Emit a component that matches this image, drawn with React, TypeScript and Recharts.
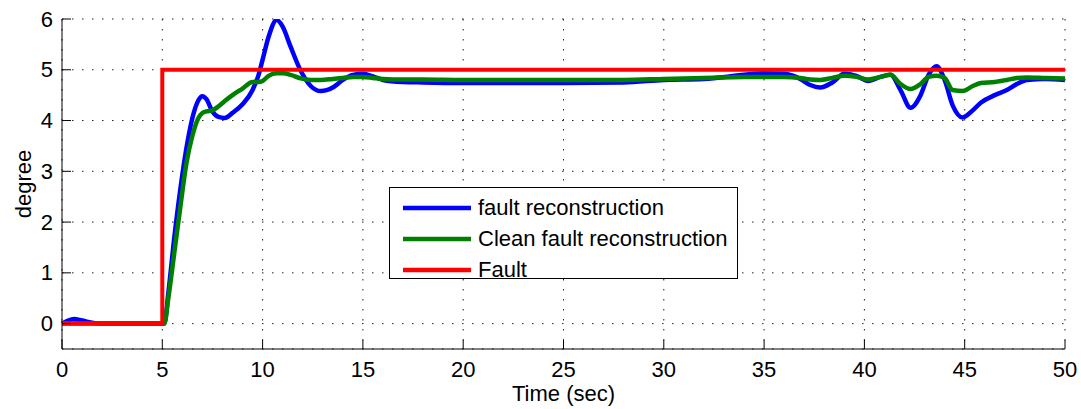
import React from 'react';
import { LineChart, Line, XAxis, YAxis, CartesianGrid, Legend } from 'recharts';

// sampled time axis (sec) for the two reconstructions
const time = [
    0, 0.3, 0.6, 1, 1.5, 2, 3, 4, 5, 5.1, 5.3, 5.6, 5.9, 6.2, 6.5, 6.8, 7.0, 7.2, 7.5, 7.8, 8.1, 8.5, 9, 9.5,
    9.8, 10, 10.3, 10.7, 11, 11.4, 11.9, 12.4, 12.9, 13.5, 14, 14.5, 15, 15.5, 16, 17, 18, 20, 22, 25, 28, 30,
    32, 34, 35, 36, 36.8, 37.3, 37.8, 38.4, 39, 39.6, 40.2, 40.8, 41.3, 41.8, 42.3, 42.8, 43.2, 43.6, 44, 44.4,
    44.9, 45.4, 45.8, 46.5, 47.1, 47.6, 48.1, 49, 50,
];

const faultRecon = [
    0, 0.06, 0.09, 0.06, 0.02, 0, 0, 0, 0, 0, 0.6, 1.7, 2.65, 3.45, 4.05, 4.4, 4.48, 4.42, 4.18, 4.07, 4.05, 4.15,
    4.32, 4.6, 4.9, 5.2, 5.65, 5.98, 5.85, 5.45, 4.98, 4.68, 4.58, 4.65, 4.8, 4.9, 4.92, 4.87, 4.8, 4.76, 4.75,
    4.74, 4.74, 4.74, 4.75, 4.8, 4.82, 4.9, 4.93, 4.92, 4.82, 4.7, 4.65, 4.75, 4.92, 4.88, 4.78, 4.86, 4.9, 4.6,
    4.25, 4.5, 4.9, 5.07, 4.8, 4.3, 4.06, 4.2, 4.35, 4.5, 4.6, 4.72, 4.8, 4.82, 4.8,
];

const cleanRecon = [
    0, 0, 0, 0, 0, 0, 0, 0, 0, 0, 0.5, 1.4, 2.3, 3.15, 3.7, 4.05, 4.15, 4.18, 4.2, 4.28, 4.38, 4.5, 4.63, 4.76,
    4.76, 4.78, 4.88, 4.93, 4.93, 4.9, 4.83, 4.8, 4.8, 4.82, 4.84, 4.86, 4.86, 4.84, 4.82, 4.81, 4.81, 4.8, 4.8,
    4.8, 4.8, 4.82, 4.84, 4.86, 4.86, 4.86, 4.84, 4.81, 4.8, 4.84, 4.88, 4.86, 4.81, 4.86, 4.9, 4.72, 4.62, 4.72,
    4.86, 4.88, 4.84, 4.6, 4.58, 4.68, 4.74, 4.76, 4.8, 4.84, 4.85, 4.84, 4.83,
];

// step fault
const faultTime = [0, 5, 5, 50];
const faultValue = [0, 0, 5, 5];

const xTicks = [0, 5, 10, 15, 20, 25, 30, 35, 40, 45, 50];
const yTicks = [0, 1, 2, 3, 4, 5, 6];

const seriesNames = ['fault reconstruction', 'Clean fault reconstruction', 'Fault'];
const seriesColors = ['#0000ff', '#008000', '#ff0000'];

const FONT = '"Liberation Sans", Arial, Helvetica, sans-serif';
const FONT_SIZE = 22;
const TICK_LEN = 9;

const reconData = time.map((t, i) => ({ t, blue: faultRecon[i], green: cleanRecon[i] }));
const faultData = faultTime.map((t, i) => ({ t, red: faultValue[i] }));

function BottomTick({ x, y, payload }: any) {
    return (
        <g>
            <line x1={x} y1={y - 20} x2={x} y2={y - 20 - TICK_LEN} stroke="#000" />
            <text x={x} y={y} textAnchor="middle" dominantBaseline="central" fontSize={FONT_SIZE} fontFamily={FONT} fill="#000">
                {payload.value}
            </text>
        </g>
    );
}

function TopTick({ x, y }: any) {
    return <line x1={x} y1={y} x2={x} y2={y + TICK_LEN} stroke="#000" />;
}

function LeftTick({ x, y, payload }: any) {
    return (
        <g>
            <line x1={x + 9} y1={y} x2={x + 9 + TICK_LEN} y2={y} stroke="#000" />
            <text x={x} y={y} textAnchor="end" dominantBaseline="central" fontSize={FONT_SIZE} fontFamily={FONT} fill="#000">
                {payload.value}
            </text>
        </g>
    );
}

function RightTick({ x, y }: any) {
    return <line x1={x - TICK_LEN} y1={y} x2={x} y2={y} stroke="#000" />;
}

function LegendBox() {
    return (
        <div
            style={{
                width: 347,
                height: 90,
                border: '1px solid #000',
                background: '#fff',
                fontFamily: FONT,
                fontSize: FONT_SIZE,
                boxSizing: 'content-box',
                whiteSpace: 'nowrap',
            }}
        >
            {seriesNames.map((name, i) => (
                <div key={name} style={{ height: 31, display: 'flex', alignItems: 'center', marginTop: i === 0 ? 4 : 0 }}>
                    <svg width={88} height={10} style={{ flex: 'none' }}>
                        <line x1={13} y1={5} x2={81} y2={5} stroke={seriesColors[i]} strokeWidth={4.5} />
                    </svg>
                    <span style={{ color: '#000' }}>{name}</span>
                </div>
            ))}
        </div>
    );
}

export default function App() {
    return (
        <div style={{ position: 'absolute', left: 0, top: 0, width: 1081, height: 409, background: '#fff' }}>
            <LineChart width={1081} height={409} margin={{ top: 19, right: 16, bottom: 0, left: 22 }}>
                <CartesianGrid stroke="#222" strokeDasharray="1.5 8.5" />
                <XAxis
                    dataKey="t"
                    type="number"
                    domain={[0, 50]}
                    ticks={xTicks}
                    allowDuplicatedCategory={false}
                    height={60}
                    tickSize={0}
                    tickMargin={20}
                    tickLine={false}
                    axisLine={{ stroke: '#000' }}
                    tick={<BottomTick />}
                    interval={0}
                    label={{
                        content: ({ viewBox }: any) => (
                            <text
                                x={viewBox.x + viewBox.width / 2}
                                y={viewBox.y + 52}
                                textAnchor="middle"
                                fontSize={FONT_SIZE}
                                fontFamily={FONT}
                                fill="#000"
                            >
                                Time (sec)
                            </text>
                        ),
                    }}
                />
                <XAxis
                    xAxisId="top"
                    orientation="top"
                    type="number"
                    domain={[0, 50]}
                    ticks={xTicks}
                    height={0}
                    tickSize={0}
                    tickMargin={0}
                    tickLine={false}
                    axisLine={{ stroke: '#000' }}
                    tick={<TopTick />}
                    interval={0}
                />
                <YAxis
                    type="number"
                    domain={[-0.5, 6]}
                    ticks={yTicks}
                    width={40}
                    tickSize={0}
                    tickMargin={9}
                    tickLine={false}
                    axisLine={{ stroke: '#000' }}
                    tick={<LeftTick />}
                    interval={0}
                    allowDataOverflow
                    label={{
                        content: ({ viewBox }: any) => {
                            const cx = viewBox.x + 1;
                            const cy = viewBox.y + viewBox.height / 2;
                            return (
                                <text
                                    x={cx}
                                    y={cy}
                                    transform={`rotate(-90 ${cx} ${cy})`}
                                    textAnchor="middle"
                                    dominantBaseline="central"
                                    fontSize={FONT_SIZE}
                                    fontFamily={FONT}
                                    fill="#000"
                                >
                                    degree
                                </text>
                            );
                        },
                    }}
                />
                <YAxis
                    yAxisId="right"
                    orientation="right"
                    type="number"
                    domain={[-0.5, 6]}
                    ticks={yTicks}
                    width={0}
                    tickSize={0}
                    tickMargin={0}
                    tickLine={false}
                    axisLine={{ stroke: '#000' }}
                    tick={<RightTick />}
                    interval={0}
                    allowDataOverflow
                />
                <Line
                    data={reconData}
                    dataKey="blue"
                    name={seriesNames[0]}
                    type="monotone"
                    stroke={seriesColors[0]}
                    strokeWidth={4.5}
                    dot={false}
                    activeDot={false}
                    isAnimationActive={false}
                />
                <Line
                    data={reconData}
                    dataKey="green"
                    name={seriesNames[1]}
                    type="monotone"
                    stroke={seriesColors[1]}
                    strokeWidth={4.5}
                    dot={false}
                    activeDot={false}
                    isAnimationActive={false}
                />
                <Line
                    data={faultData}
                    dataKey="red"
                    name={seriesNames[2]}
                    type="linear"
                    stroke={seriesColors[2]}
                    strokeWidth={4}
                    dot={false}
                    activeDot={false}
                    isAnimationActive={false}
                />
                <Legend
                    layout="vertical"
                    align="center"
                    verticalAlign="middle"
                    wrapperStyle={{ position: 'absolute', left: 389, top: 187, width: 349, height: 92 }}
                    content={() => <LegendBox />}
                />
            </LineChart>
        </div>
    );
}
